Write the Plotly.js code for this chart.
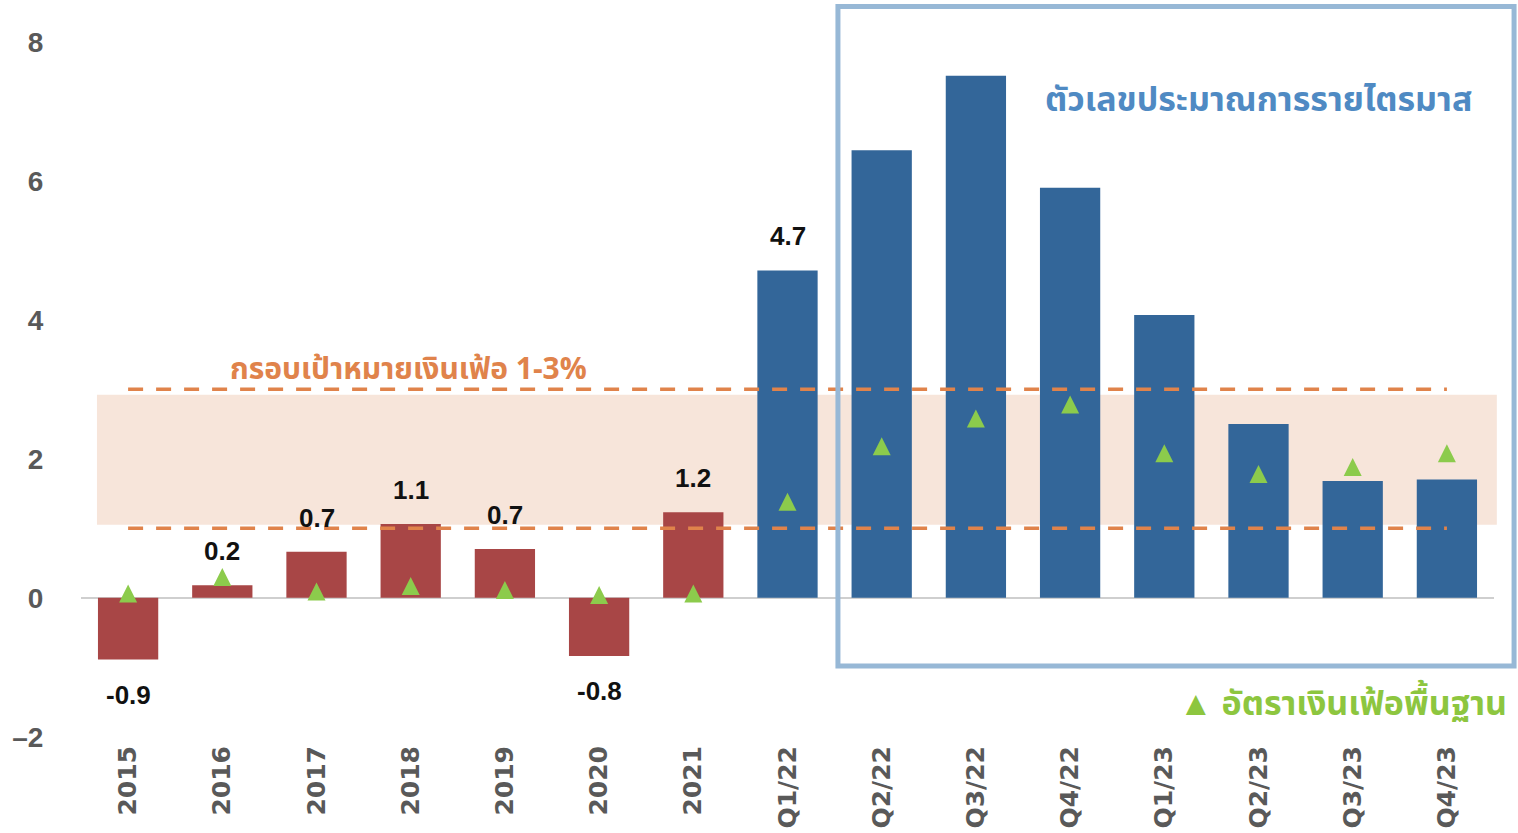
<!DOCTYPE html>
<html>
<head>
<meta charset="utf-8">
<script src="https://cdn.plot.ly/plotly-3.0.1.min.js"></script>
<style>html,body{margin:0;padding:0;background:#fff;}#chart{width:1518px;height:833px;}</style>
</head>
<body>
<div id="chart"></div>
<script>
// ---- data ----
const categories = ['2015','2016','2017','2018','2019','2020','2021','Q1/22','Q2/22','Q3/22','Q4/22','Q1/23','Q2/23','Q3/23','Q4/23'];
const headlineInflation = [-0.89, 0.18, 0.66, 1.06, 0.70, -0.84, 1.23, 4.71, 6.44, 7.51, 5.90, 4.07, 2.50, 1.68, 1.70];
const coreInflation = [0.06, 0.30, 0.09, 0.17, 0.11, 0.04, 0.06, 1.38, 2.18, 2.58, 2.78, 2.08, 1.78, 1.88, 2.08];
const barLabels = ['-0.9','0.2','0.7','1.1','0.7','-0.8','1.2','4.7','','','','','','',''];
const yTicks = [-2, 0, 2, 4, 6, 8];
const yTickText = ['–2', '0', '2', '4', '6', '8'];
const targetLow = 1, targetHigh = 3;
const bandLow = 1.05, bandHigh = 2.92;
const targetText = 'กรอบเป้าหมายเงินเฟ้อ 1-3%';
const forecastText = 'ตัวเลขประมาณการรายไตรมาส';
const coreText = '▲ อัตราเงินเฟ้อพื้นฐาน';

// ---- styles ----
const RED = '#A84646', BLUE = '#336699', GREEN = '#8CCB4C', ORANGE = '#E0834B';
const thaiFont = '"Noto Sans Thai", "Noto Sans Thai Looped", Loma, Garuda, "Noto Sans", sans-serif';
const Y_RANGE = [-2.047, 8.5];
const MARKER_SIZE = 18;
const PX_PER_UNIT = 69.5;
// arrow-up markers have their tip at the point: lift the overlay scale by half a marker so the point sits at the marker's middle
const lift = (MARKER_SIZE / 2) / PX_PER_UNIT;

const barColors = categories.map(c => c.startsWith('Q') ? BLUE : RED);
const idx = categories.map((c, i) => i);

const bars = {
  type: 'bar', x: categories, y: headlineInflation,
  marker: {color: barColors}, hoverinfo: 'x+y', showlegend: false
};
const core = {
  type: 'scatter', mode: 'markers', x: categories, y: coreInflation, yaxis: 'y2',
  marker: {symbol: 'arrow-up', size: MARKER_SIZE, color: GREEN, line: {width: 0}}, showlegend: false, cliponaxis: false
};

const annotations = idx.map(i => ({
  x: i, y: headlineInflation[i], xref: 'x', yref: 'y',
  text: barLabels[i], showarrow: false, xanchor: 'center', yanchor: 'middle',
  yshift: headlineInflation[i] >= 0 ? 34 : -35,
  font: {family: 'Liberation Sans, Arial, sans-serif', size: 26, color: '#111', weight: 'bold'}
})).filter(a => a.text !== '');

annotations.push(
  {xref: 'paper', yref: 'paper', x: 0.232, y: 0.505, xanchor: 'center', yanchor: 'middle', text: targetText, showarrow: false,
   font: {family: thaiFont, size: 30, color: ORANGE, weight: 'bold'}},
  {xref: 'paper', yref: 'paper', x: 0.833, y: 0.873, xanchor: 'center', yanchor: 'middle', text: forecastText, showarrow: false,
   font: {family: thaiFont, size: 34, color: '#4F8AC3', weight: 'bold'}},
  {xref: 'paper', yref: 'paper', x: 0.893, y: 0.048, xanchor: 'center', yanchor: 'middle', text: coreText, showarrow: false,
   font: {family: thaiFont, size: 34, color: '#8DC63F', weight: 'bold'}}
);

const shapes = [
  {type: 'rect', layer: 'below', xref: 'paper', yref: 'y', x0: 0.0113, x1: 1.002, y0: bandLow, y1: bandHigh,
   fillcolor: '#F7E5DA', line: {width: 0}},
  {type: 'line', layer: 'above', xref: 'x', yref: 'y', x0: 0, x1: categories.length - 1, y0: targetHigh, y1: targetHigh,
   line: {color: ORANGE, width: 3.5, dash: '15px,13px'}},
  {type: 'line', layer: 'above', xref: 'x', yref: 'y', x0: 0, x1: categories.length - 1, y0: targetLow, y1: targetLow,
   line: {color: ORANGE, width: 3.5, dash: '15px,13px'}},
  {type: 'rect', layer: 'above', xref: 'paper', yref: 'paper', x0: 0.5357, x1: 1.0142, y0: 0.101, y1: 1.0007,
   fillcolor: 'rgba(0,0,0,0)', line: {color: '#97B8D6', width: 5}}
];

const layout = {
  width: 1518, height: 833,
  margin: {l: 81, r: 24, t: 7, b: 93},
  paper_bgcolor: '#fff', plot_bgcolor: '#fff',
  bargap: 0.36,
  showlegend: false,
  xaxis: {
    type: 'category', range: [-0.5, 14.5], tickangle: -90, showgrid: false, showline: false, zeroline: false,
    ticks: '', tickfont: {family: 'DejaVu Sans', size: 25, color: '#595959', weight: 'bold'}
  },
  yaxis: {
    range: Y_RANGE, tickvals: yTicks, ticktext: yTickText, showgrid: false, showline: false,
    zeroline: true, zerolinecolor: '#CFCFCF', zerolinewidth: 2,
    ticks: 'outside', ticklen: 31, tickcolor: 'rgba(0,0,0,0)',
    tickfont: {family: 'Liberation Sans, Arial, sans-serif', size: 28, color: '#595959', weight: 'bold'}
  },
  yaxis2: {
    overlaying: 'y', range: [Y_RANGE[0] - lift, Y_RANGE[1] - lift], visible: false, showgrid: false, zeroline: false
  },
  shapes: shapes,
  annotations: annotations
};

Plotly.newPlot('chart', [bars, core], layout, {displayModeBar: false, staticPlot: true});
</script>
</body>
</html>
